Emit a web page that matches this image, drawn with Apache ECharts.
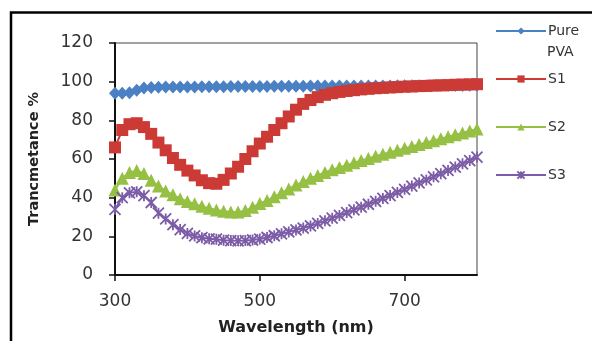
<!DOCTYPE html>
<html>
<head>
<meta charset="utf-8">
<script src="https://cdn.jsdelivr.net/npm/echarts@6/dist/echarts.min.js"></script>
<style>html,body{margin:0;padding:0;background:#fff;}#c{width:592px;height:341px;}</style>
</head>
<body>
<div id="c"></div>
<script>
var wavelengths = [300,310,320,330,340,350,360,370,380,390,400,410,420,430,440,450,460,470,480,490,500,510,520,530,540,550,560,570,580,590,600,610,620,630,640,650,660,670,680,690,700,710,720,730,740,750,760,770,780,790,800];
var purePVA = [94,94,94.3,95.5,96.7,97,97.1,97.2,97.2,97.3,97.3,97.3,97.4,97.4,97.4,97.4,97.5,97.5,97.5,97.5,97.5,97.5,97.6,97.6,97.6,97.6,97.6,97.7,97.7,97.7,97.7,97.7,97.7,97.8,97.8,97.8,97.8,97.8,97.8,97.9,97.9,97.9,97.9,97.9,98,98,98,98,98,98.1,98.1];
var s1 = [66,75,78,78.5,76.5,73,68.5,64.5,60.5,57,54,51.5,49,47.5,47.2,49.2,52.5,56,60,64,68,71.5,75,78.5,82,85.5,88.5,90.5,92,93.2,94,94.7,95.2,95.6,96,96.3,96.6,96.8,97,97.2,97.4,97.5,97.7,97.8,98,98.1,98.2,98.4,98.5,98.6,98.7];
var s2 = [44,50,53,54,52.5,49,46,43.5,41.5,39.5,38,36.8,35.5,34.5,33.6,33,32.6,32.6,33.3,35,37,38.5,40.5,42.5,44.5,46.5,48.3,50,51.5,53,54.5,55.6,56.8,58,59.2,60.3,61.4,62.5,63.5,64.5,65.5,66.5,67.5,68.5,69.5,70.5,71.5,72.5,73.5,74.5,75.5];
var s3 = [34,40,42.5,43,41,37.5,32,29,26,23.5,21.5,20.2,19.3,18.7,18.5,18,17.8,17.7,17.8,18.1,18.6,19.4,20.3,21.3,22.3,23.3,24.3,25.4,26.7,28,29.4,30.8,32.3,33.7,35.1,36.6,38.1,39.6,41.1,42.7,44.3,46,47.6,49.2,50.8,52.4,54.1,55.8,57.5,59.2,61];
var yTicks = [0,20,40,60,80,100,120];
var xTicks = [300,500,700];
var seriesNames = ['Pure PVA','S1','S2','S3'];

function pairs(vals){ return wavelengths.map(function(w,i){ return [w, vals[i]]; }); }

var colors = ['#4a80c4','#cc3a36','#96c043','#7c5ca6'];
var starPath = 'path://M0,0L10,10M10,0L0,10M5,0L5,10';
var font = 'DejaVu Sans';

var chart = echarts.init(document.getElementById('c'), null, {renderer:'canvas'});
function legendAt(name, top, fmt){
  return {
    data:[name], orient:'vertical', left:495, top:top, padding:0,
    itemWidth:50, itemHeight:9, itemGap:0,
    formatter: fmt || '{name}',
    textStyle:{fontFamily:font, fontSize:14, color:'#333', lineHeight:16, padding:[0,0,0,-3]}
  };
}
var option = {
  animation:false,
  backgroundColor:'#fff',
  color:colors,
  grid:{left:115, right:115, top:43, bottom:61, show:true, borderColor:'#444', borderWidth:1, containLabel:false},
  legend:[
    legendAt('Pure PVA', 23, function(){ return 'Pure'; }),
    legendAt('S1', 71),
    legendAt('S2', 119),
    legendAt('S3', 167)
  ],
  graphic:[
    {type:'rect', shape:{x:11, y:12.5, width:620, height:360}, style:{fill:'none', stroke:'#000', lineWidth:2.5}, silent:true, z:100},
    {type:'text', left:547, top:45, style:{text:'PVA', fontFamily:font, fontSize:14, fill:'#333'}}
  ],
  xAxis:{
    type:'value', min:300, max:800, interval:200,
    name:'Wavelength (nm)', nameLocation:'middle', nameGap:45,
    nameTextStyle:{fontFamily:font, fontSize:16, fontWeight:'bold', color:'#222'},
    axisLine:{show:true, lineStyle:{color:'#111', width:2}},
    axisTick:{show:true, inside:false, length:6, lineStyle:{color:'#111', width:1.5}},
    axisLabel:{showMaxLabel:false, margin:18, fontFamily:font, fontSize:17, color:'#333',
      formatter:function(v){ return xTicks.indexOf(v) >= 0 ? String(v) : ''; }},
    splitLine:{show:false}
  },
  yAxis:{
    type:'value', min:0, max:120, interval:20,
    name:'Trancmetance %', nameLocation:'middle', nameGap:73,
    nameTextStyle:{fontFamily:font, fontSize:14.5, fontWeight:'bold', color:'#222'},
    axisLine:{show:true, lineStyle:{color:'#111', width:2}},
    axisTick:{show:true, inside:false, length:6, lineStyle:{color:'#111', width:1.5}},
    axisLabel:{margin:22, fontFamily:font, fontSize:17, color:'#333',
      formatter:function(v){ return yTicks.indexOf(v) >= 0 ? String(v) : ''; }},
    splitLine:{show:false}
  },
  series:[
    {name:seriesNames[0], type:'line', data:pairs(purePVA), symbol:'diamond', symbolSize:[12,13], showAllSymbol:true,
      lineStyle:{width:2, color:colors[0]}, itemStyle:{color:colors[0]}},
    {name:seriesNames[1], type:'line', data:pairs(s1), symbol:'rect', symbolSize:12, showAllSymbol:true,
      lineStyle:{width:2, color:colors[1]}, itemStyle:{color:colors[1]}},
    {name:seriesNames[2], type:'line', data:pairs(s2), symbol:'triangle', symbolSize:13, showAllSymbol:true,
      lineStyle:{width:2, color:colors[2]}, itemStyle:{color:colors[2]}},
    {name:seriesNames[3], type:'line', data:pairs(s3), symbol:starPath, symbolSize:11, showAllSymbol:true,
      lineStyle:{width:2, color:colors[3]}, itemStyle:{color:colors[3], borderColor:colors[3], borderWidth:1.8}}
  ]
};
chart.setOption(option);
</script>
</body>
</html>
